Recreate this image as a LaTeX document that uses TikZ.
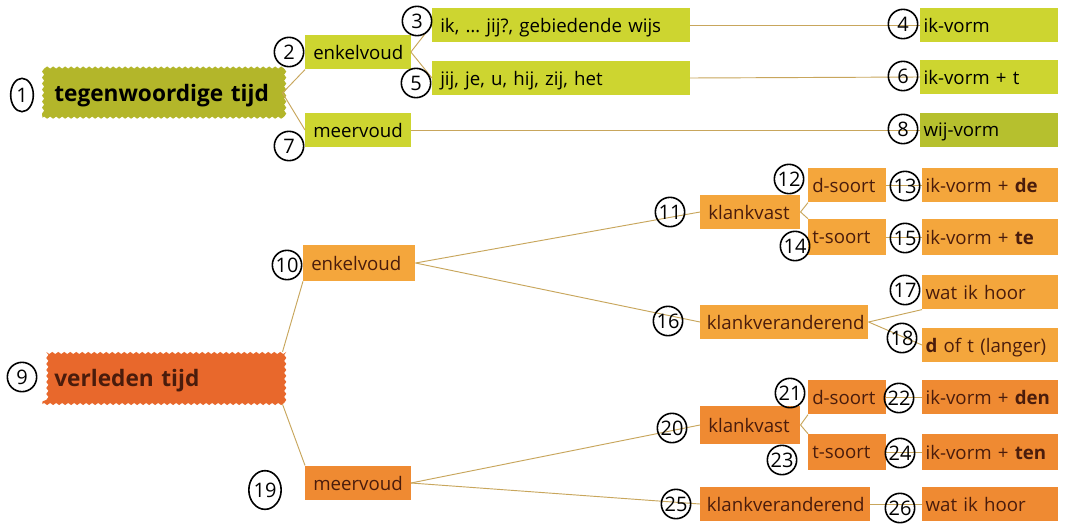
\documentclass[tikz,border=0pt]{standalone}
\usepackage{fontspec}
\setmainfont{Open Sans}
\usetikzlibrary{decorations.pathmorphing}
\usetikzlibrary{calc, shapes.geometric}

\definecolor{tgdark}{HTML}{B3B62A}
\definecolor{tglight}{HTML}{CDD530}
\definecolor{tgwij}{HTML}{B6C02E}
\definecolor{vtdark}{HTML}{E8682C}
\definecolor{vtmid}{HTML}{EF8A32}
\definecolor{vtlight}{HTML}{F4A63C}
\definecolor{vttext}{HTML}{4A1C0C}
\definecolor{linkcol}{HTML}{C8A65C}

\tikzset{
  box/.style={anchor=west, inner xsep=6pt, inner ysep=0pt, text depth=0pt, align=left,
    font=\fontsize{14}{15}\selectfont},
  tgbox/.style={box, fill=tglight, text=black},
  vtbox/.style={box, fill=vtlight, text=vttext},
  vtbox2/.style={box, fill=vtmid, text=vttext},
  endbox/.style={inner xsep=2.5pt},
  soortbox/.style={inner xsep=3pt, text width=52pt},
  wavybox/.style={box, inner xsep=6pt, decorate, decoration={snake, segment length=4.5pt, amplitude=0.8pt},
    font=\fontsize{17}{19}\selectfont\bfseries},
  nr/.style={draw=black, line width=1.2pt, circle, inner sep=0pt, minimum size=22pt,
    font=\fontsize{15}{15}\selectfont},
  link/.style={draw=linkcol, line width=0.7pt}
}

\begin{document}
\begin{tikzpicture}[x=0.75pt, y=-0.75pt]
  \fill[white] (0,0) rectangle (1067,529);
  \useasboundingbox (0,0) rectangle (1067,529);

  % tegenwoordige tijd
  \node[wavybox, fill=tgdark, text width=168pt, minimum height=37pt, text=black]
    (tt) at (42,93) {\hspace*{3pt}tegenwoordige tijd};
  \node[tgbox, text width=67pt, minimum height=26pt] (enk) at (305,52) {enkelvoud};
  \node[tgbox, text width=67pt, minimum height=26pt] (mv) at (305,130) {meervoud};
  \node[tgbox, text width=181pt, minimum height=25.5pt] (ikj) at (432,25) {ik, \dots\ jij?, gebiedende wijs};
  \node[tgbox, text width=181pt, minimum height=25.5pt] (jij) at (432,78) {jij, je, u, hij, zij, het};
  \node[tgbox, endbox, text width=98.5pt, minimum height=26pt] (ikv) at (920,25) {ik-vorm};
  \node[tgbox, endbox, text width=98.5pt, minimum height=26pt] (ikt) at (920,77) {ik-vorm + t};
  \node[tgbox, endbox, fill=tgwij, text width=98.5pt, minimum height=26pt] (wij) at (920,130) {wij-vorm};

  % verleden tijd
  \node[wavybox, fill=vtdark, text width=168pt, minimum height=39pt, text=vttext]
    (vt) at (42,378) {\hspace*{3pt}verleden tijd};
  \node[vtbox, text width=72pt, minimum height=27pt] (enk2) at (303,263) {enkelvoud};
  \node[vtbox2, text width=67pt, minimum height=26pt] (mv2) at (305,483) {meervoud};

  \node[vtbox, text width=63pt, minimum height=26pt] (kv) at (700,212) {klankvast};
  \node[vtbox, soortbox, minimum height=26pt] (ds) at (808,185) {d-soort};
  \node[vtbox, soortbox, minimum height=27pt] (ts) at (808,237) {t-soort};
  \node[vtbox, endbox, text width=97pt, minimum height=26pt] (ikde) at (922,185) {ik-vorm + \textbf{de}};
  \node[vtbox, endbox, text width=97pt, minimum height=27pt] (ikte) at (922,237) {ik-vorm + \textbf{te}};
  \node[vtbox, inner xsep=5pt, text width=116pt, minimum height=26pt] (kvr) at (700,322) {klankveranderend};
  \node[vtbox, endbox, text width=97pt, minimum height=26pt] (wat) at (922,292) {wat ik hoor};
  \node[vtbox, endbox, text width=97pt, minimum height=26pt] (dt) at (922,345) {\textbf{d} of t (langer)};

  \node[vtbox2, text width=63pt, minimum height=28pt] (kv2) at (700,425) {klankvast};
  \node[vtbox2, soortbox, minimum height=26pt] (ds2) at (808,397) {d-soort};
  \node[vtbox2, soortbox, minimum height=27pt] (ts2) at (808,452) {t-soort};
  \node[vtbox2, endbox, text width=97pt, minimum height=26pt] (ikden) at (922,397) {ik-vorm + \textbf{den}};
  \node[vtbox2, endbox, text width=97pt, minimum height=27pt] (ikten) at (922,452) {ik-vorm + \textbf{ten}};
  \node[vtbox2, inner xsep=5pt, text width=117pt, minimum height=26pt] (kvr2) at (700,504) {klankveranderend};
  \node[vtbox2, endbox, text width=97pt, minimum height=26pt] (wat2) at (922,504) {wat ik hoor};

  % lines
  \draw[link] (tt.east) -- (enk.south west);
  \draw[link] (tt.east) -- (mv.west);
  \draw[link] (enk.east) -- (ikj.west);
  \draw[link] (enk.east) -- (jij.west);
  \draw[link] (ikj.east) -- (ikv.west);
  \draw[link] (jij.east) -- (ikt.west);
  \draw[link] (mv.east) -- (wij.west);

  \draw[link] (vt.north east) -- (enk2.south west);
  \draw[link] (vt.south east) -- (mv2.north west);
  \draw[link] (enk2.east) -- (kv.west);
  \draw[link] (enk2.east) -- (kvr.west);
  \draw[link] (kv.east) -- (ds.south west);
  \draw[link] (kv.east) -- (ts.north west);
  \draw[link] (ds.east) -- (ikde.west);
  \draw[link] (ts.east) -- (ikte.west);
  \draw[link] (kvr.east) -- (wat.south west);
  \draw[link] (kvr.east) -- (dt.west);
  \draw[link] (mv2.east) -- (kv2.west);
  \draw[link] (mv2.east) -- (kvr2.west);
  \draw[link] (kv2.east) -- (ds2.south west);
  \draw[link] (kv2.east) -- (ts2.north west);
  \draw[link] (ds2.east) -- (ikden.west);
  \draw[link] (ts2.east) -- (ikten.west);
  \draw[link] (kvr2.east) -- (wat2.west);

  % the numbers
  \node[nr, ellipse, minimum width=17pt, minimum height=25pt] (c1) at (22,95) {1};
  \node[nr] (c2) at (289,52) {2};
  \node[nr] (c3) at (417,21) {3};
  \node[nr] (c4) at (903,24) {4};
  \node[nr] (c5) at (416,83) {5};
  \node[nr] (c6) at (903,76) {6};
  \node[nr] (c7) at (289,146) {7};
  \node[nr] (c8) at (903,129) {8};
  \node[nr] (c9) at (22,377) {9};
  \node[nr] (c10) at (287,265) {10};
  \node[nr] (c11) at (670,212) {11};
  \node[nr] (c12) at (789,179) {12};
  \node[nr] (c13) at (905,186) {13};
  \node[nr] (c14) at (795,246) {14};
  \node[nr] (c15) at (905,238) {15};
  \node[nr] (c16) at (668,321) {16};
  \node[nr] (c17) at (905,290) {17};
  \node[nr] (c18) at (902,338) {18};
  \node[nr, ellipse, minimum width=24pt, minimum height=29pt] (c19) at (265,490) {19};
  \node[nr] (c20) at (672,428) {20};
  \node[nr] (c21) at (790,393) {21};
  \node[nr] (c22) at (899,398) {22};
  \node[nr] (c23) at (782,460) {23};
  \node[nr] (c24) at (900,453) {24};
  \node[nr] (c25) at (676,504) {25};
  \node[nr] (c26) at (900,508) {26};
\end{tikzpicture}
\end{document}
